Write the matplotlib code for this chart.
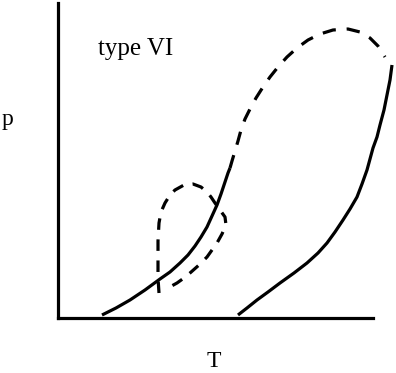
import matplotlib
matplotlib.use("Agg")
import matplotlib.pyplot as plt

# curves, T along x, p upwards (pixel-like units)
liq1_T = [102, 116, 130, 145, 160, 170, 180, 188, 195, 201, 207, 212, 217, 221, 225, 228, 230]
liq1_p = [3, 10, 18, 28, 39, 46, 55, 63, 72, 81, 91, 102, 113, 124, 136, 145, 150]

crit_T = [230, 232, 235, 238, 241, 245, 250, 256, 263, 270, 278, 287, 297, 308,
          320, 333, 348, 360, 370, 378, 385]
crit_p = [150, 157, 167, 177, 188, 199, 209, 220, 231, 241, 251, 261, 270, 278,
          284, 288, 289, 286, 280, 272, 261]

liq2_T = [392, 390, 387, 384, 380, 377, 373, 370, 367, 362, 357, 350, 343, 335,
          327, 318, 307, 294, 280, 268, 257, 247, 238]
liq2_p = [253, 238, 223, 208, 193, 181, 170, 159, 148, 134, 121, 109, 98, 86,
          75, 65, 55, 45, 35, 26, 18, 10, 3]

loop_T = [159, 158, 158, 158, 159, 161, 165, 170, 175, 184, 193, 201, 207, 211,
          215, 220, 225, 226, 222, 217, 212, 207, 199, 190, 184, 177, 168]
loop_p = [25, 40, 58, 77, 95, 106, 115, 123, 128, 133, 134, 131, 126, 121,
          115, 108, 101, 93, 84, 75, 68, 61, 53, 45, 40, 35, 30]

W, H = 396, 373
fig = plt.figure(figsize=(W / 100, H / 100), dpi=100)
ax = fig.add_axes([58 / W, 1 - 318 / H, (373 - 58) / W, (318 - 3) / H])
ax.set_xlim(58, 373)
ax.set_ylim(0, 315)

lw = 2.3
ax.plot(liq1_T, liq1_p, color="black", lw=lw, solid_capstyle="butt", clip_on=False)
ax.plot(liq2_T, liq2_p, color="black", lw=lw, solid_capstyle="butt", clip_on=False)
ax.plot(crit_T, crit_p, color="black", lw=lw, dashes=(4.2, 3.4), clip_on=False)
ax.plot(loop_T, loop_p, color="black", lw=lw, dashes=(3.6, 3.0), clip_on=False)

for s in ["top", "right"]:
    ax.spines[s].set_visible(False)
for s in ["left", "bottom"]:
    ax.spines[s].set_linewidth(2.3)
ax.set_xticks([])
ax.set_yticks([])

serif = ["Liberation Serif", "DejaVu Serif"]
fig.text(98 / W, 1 - 55 / H, "type VI", family=serif, fontsize=18,
         ha="left", va="baseline")
fig.text(8 / W, 1 - 125 / H, "p", family=serif, fontsize=17,
         ha="center", va="baseline")
fig.text(214 / W, 1 - 367 / H, "T", family=serif, fontsize=17,
         ha="center", va="baseline")

fig.savefig("out.png", dpi=100)
